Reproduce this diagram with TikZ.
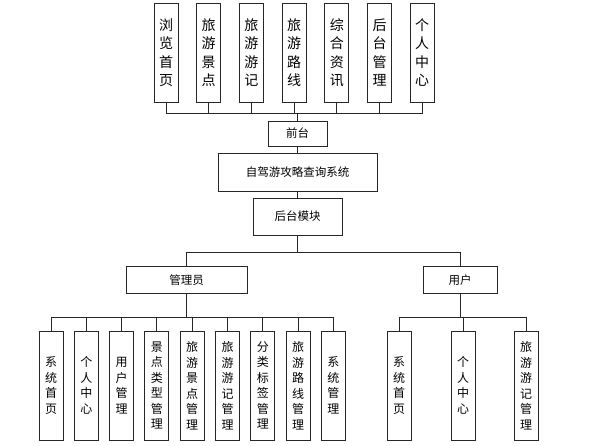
\documentclass[tikz,border=0pt]{standalone}
\usepackage{fontspec}
\setmainfont{Noto Sans CJK SC}
\begin{document}
\begin{tikzpicture}[x=1pt,y=-1pt,
  box/.style={draw=black!85,line width=1pt,inner sep=0pt,align=center},
  topbox/.style={box,minimum width=24pt,minimum height=99pt,font=\fontsize{14}{18.5}\selectfont},
  midbox/.style={box,minimum height=27pt,font=\fontsize{11.5}{14}\selectfont},
  lowbox/.style={box,minimum width=24pt,minimum height=109pt,font=\fontsize{12}{15.5}\selectfont},
  link/.style={draw=black!85,line width=1pt}]
\useasboundingbox (0,0) rectangle (600,445);

  \pgfmathsetmacro\tstep{42.7}   % spacing of front pages
  \pgfmathsetmacro\lstep{35.3}   % spacing of admin pages

% front pages
  \node[topbox] (home)    at (166,52.5)          {浏\\览\\首\\页};
  \node[topbox] (spot)    at (166+\tstep,52.5)   {旅\\游\\景\\点};
  \node[topbox] (note)    at (166+2*\tstep,52.5) {旅\\游\\游\\记};
  \node[topbox] (route)   at (166+3*\tstep,52.5) {旅\\游\\路\\线};
  \node[topbox] (news)    at (166+4*\tstep,52.5) {综\\合\\资\\讯};
  \node[topbox] (backend) at (166+5*\tstep,52.5) {后\\台\\管\\理};
  \node[topbox] (mine)    at (166+6*\tstep,52.5) {个\\人\\中\\心};

% system core
  \node[midbox,minimum width=59pt,minimum height=25pt]  (front)  at (297.5,133.5) {前台};
  \node[midbox,minimum width=159pt,minimum height=38pt] (system) at (297.5,172)   {自驾游攻略查询系统};
  \node[midbox,minimum width=89pt,minimum height=37pt]  (back)   at (297.5,216.5) {后台模块};
  \node[midbox,minimum width=121pt] (admin) at (186.5,280) {管理员};
  \node[midbox,minimum width=74pt]  (user)  at (460,280)   {用户};

% admin pages
  \node[lowbox] (asys)    at (51,385.5)          {系\\统\\首\\页};
  \node[lowbox] (amine)   at (51+\lstep,385.5)   {个\\人\\中\\心};
  \node[lowbox] (auser)   at (51+2*\lstep,385.5) {用\\户\\管\\理};
  \node[lowbox] (atype)   at (51+3*\lstep,385.5) {景\\点\\类\\型\\管\\理};
  \node[lowbox] (aspot)   at (51+4*\lstep,385.5) {旅\\游\\景\\点\\管\\理};
  \node[lowbox] (anote)   at (51+5*\lstep,385.5) {旅\\游\\游\\记\\管\\理};
  \node[lowbox] (atag)    at (51+6*\lstep,385.5) {分\\类\\标\\签\\管\\理};
  \node[lowbox] (aroute)  at (51+7*\lstep,385.5) {旅\\游\\路\\线\\管\\理};
  \node[lowbox] (amanage) at (51+8*\lstep,385.5) {系\\统\\管\\理};

% user pages
  \node[lowbox] (usys)  at (399,385.5) {系\\统\\首\\页};
  \node[lowbox] (umine) at (463,385.5) {个\\人\\中\\心};
  \node[lowbox] (unote) at (526,385.5) {旅\\游\\游\\记\\管\\理};

% bus junctions
  \coordinate (tbus) at (297.5,113);
  \coordinate (mbus) at (297.5,252);
  \coordinate (abus) at (186.5,317);
  \coordinate (ubus) at (460,317);

% connectors
  \draw[link] (front.north) -- (tbus);
  \draw[link] (home.south) |- (tbus);
  \draw[link] (spot.south) |- (tbus);
  \draw[link] (note.south) |- (tbus);
  \draw[link] (route.south) |- (tbus);
  \draw[link] (news.south) |- (tbus);
  \draw[link] (backend.south) |- (tbus);
  \draw[link] (mine.south) |- (tbus);
  \draw[link] (front) -- (system);
  \draw[link] (system) -- (back);
  \draw[link] (back.south) -- (mbus);
  \draw[link] (admin.north) |- (mbus);
  \draw[link] (user.north) |- (mbus);

  \draw[link] (admin.south) -- (abus);
  \draw[link] (asys.north) |- (abus);
  \draw[link] (amine.north) |- (abus);
  \draw[link] (auser.north) |- (abus);
  \draw[link] (atype.north) |- (abus);
  \draw[link] (aspot.north) |- (abus);
  \draw[link] (anote.north) |- (abus);
  \draw[link] (atag.north) |- (abus);
  \draw[link] (aroute.north) |- (abus);
  \draw[link] (amanage.north) |- (abus);

  \draw[link] (user.south) -- (ubus);
  \draw[link] (usys.north) |- (ubus);
  \draw[link] (umine.north) |- (ubus);
  \draw[link] (unote.north) |- (ubus);

\end{tikzpicture}
\end{document}
